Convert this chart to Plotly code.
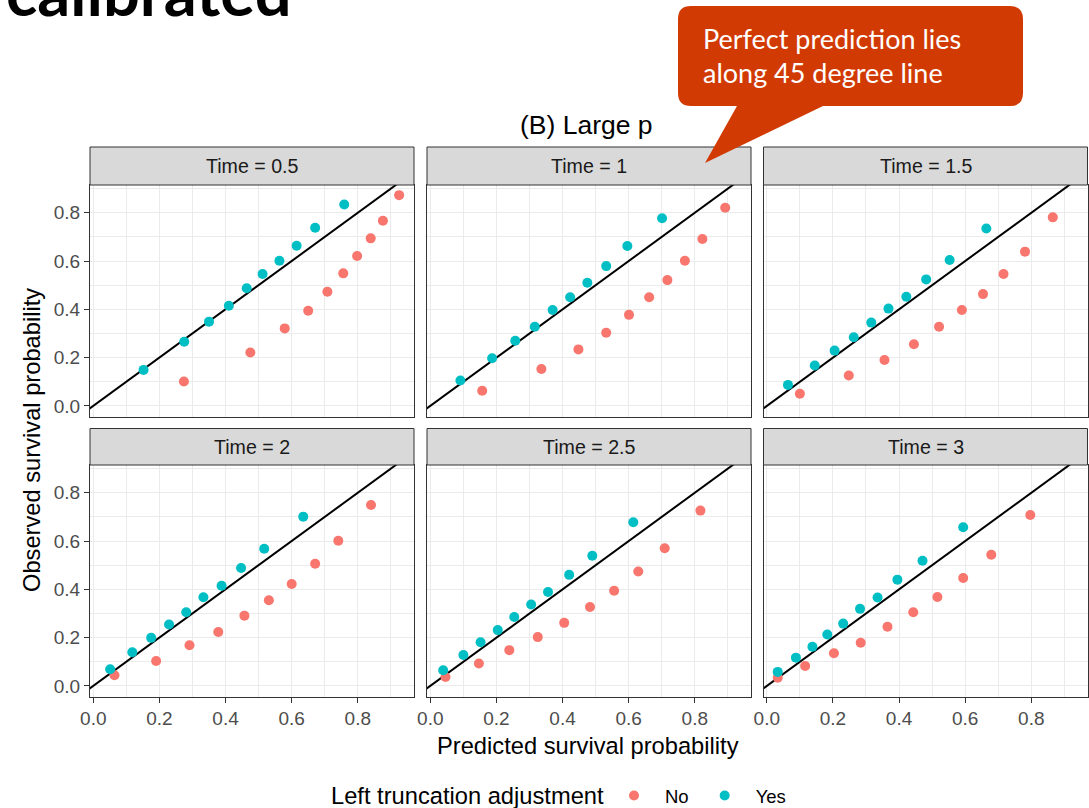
import plotly.graph_objects as go

# ---------------- data ----------------
time_labels = ["0.5", "1", "1.5", "2", "2.5", "3"]

t05_no_x = [0.274, 0.475, 0.579, 0.650, 0.708, 0.756, 0.798, 0.839, 0.876, 0.925]
t05_no_y = [0.101, 0.221, 0.321, 0.394, 0.473, 0.549, 0.621, 0.694, 0.767, 0.873]
t05_yes_x = [0.152, 0.275, 0.350, 0.410, 0.464, 0.512, 0.563, 0.615, 0.671, 0.759]
t05_yes_y = [0.149, 0.266, 0.349, 0.415, 0.487, 0.546, 0.601, 0.663, 0.738, 0.834]

t1_no_x = [0.157, 0.336, 0.448, 0.532, 0.601, 0.662, 0.717, 0.770, 0.823, 0.892]
t1_no_y = [0.063, 0.153, 0.234, 0.303, 0.377, 0.450, 0.521, 0.601, 0.691, 0.821]
t1_yes_x = [0.091, 0.187, 0.257, 0.316, 0.370, 0.423, 0.475, 0.532, 0.596, 0.701]
t1_yes_y = [0.105, 0.197, 0.270, 0.328, 0.397, 0.450, 0.510, 0.579, 0.662, 0.777]

t15_no_x = [0.100, 0.248, 0.356, 0.445, 0.521, 0.590, 0.654, 0.716, 0.781, 0.865]
t15_no_y = [0.050, 0.126, 0.190, 0.255, 0.328, 0.397, 0.463, 0.546, 0.639, 0.781]
t15_yes_x = [0.064, 0.145, 0.205, 0.263, 0.316, 0.368, 0.422, 0.482, 0.553, 0.664]
t15_yes_y = [0.087, 0.167, 0.229, 0.284, 0.345, 0.403, 0.452, 0.524, 0.604, 0.735]

t2_no_x = [0.064, 0.190, 0.291, 0.378, 0.457, 0.531, 0.600, 0.671, 0.741, 0.840]
t2_no_y = [0.044, 0.103, 0.168, 0.223, 0.291, 0.355, 0.422, 0.506, 0.601, 0.749]
t2_yes_x = [0.051, 0.118, 0.175, 0.229, 0.281, 0.333, 0.388, 0.447, 0.517, 0.635]
t2_yes_y = [0.069, 0.139, 0.199, 0.254, 0.305, 0.367, 0.415, 0.488, 0.568, 0.701]

t25_no_x = [0.046, 0.147, 0.239, 0.325, 0.405, 0.483, 0.556, 0.629, 0.709, 0.817]
t25_no_y = [0.037, 0.093, 0.148, 0.202, 0.261, 0.327, 0.394, 0.474, 0.570, 0.726]
t25_yes_x = [0.039, 0.100, 0.152, 0.204, 0.254, 0.305, 0.356, 0.420, 0.490, 0.614]
t25_yes_y = [0.065, 0.128, 0.181, 0.231, 0.285, 0.337, 0.389, 0.460, 0.539, 0.678]

t3_no_x = [0.033, 0.116, 0.203, 0.284, 0.365, 0.443, 0.516, 0.594, 0.679, 0.797]
t3_no_y = [0.034, 0.082, 0.135, 0.179, 0.245, 0.305, 0.368, 0.447, 0.543, 0.708]
t3_yes_x = [0.033, 0.088, 0.138, 0.183, 0.231, 0.282, 0.335, 0.395, 0.471, 0.594]
t3_yes_y = [0.058, 0.117, 0.162, 0.213, 0.258, 0.319, 0.366, 0.440, 0.518, 0.657]

tick_vals = [0.0, 0.2, 0.4, 0.6, 0.8]
tick_text = ["0.0", "0.2", "0.4", "0.6", "0.8"]
minor_vals = [0.1, 0.3, 0.5, 0.7, 0.9]
ref_line = [-0.2, 1.2]   # identity line y = x

panels = [
    (time_labels[0], t05_no_x, t05_no_y, t05_yes_x, t05_yes_y),
    (time_labels[1], t1_no_x, t1_no_y, t1_yes_x, t1_yes_y),
    (time_labels[2], t15_no_x, t15_no_y, t15_yes_x, t15_yes_y),
    (time_labels[3], t2_no_x, t2_no_y, t2_yes_x, t2_yes_y),
    (time_labels[4], t25_no_x, t25_no_y, t25_yes_x, t25_yes_y),
    (time_labels[5], t3_no_x, t3_no_y, t3_yes_x, t3_yes_y),
]

# ---------------- layout geometry (pixels) ----------------
W, H = 1089, 808
col_px = [(90, 414), (427, 751), (763.5, 1087.5)]
row_px = [(185, 416.5), (465, 696.5)]      # panel top, bottom
strip_px = [(147, 185), (428.5, 465)]


def fx(x):
    return x / W


def fy(y):
    return 1 - y / H


FONT = "Liberation Sans, Arial, Helvetica, sans-serif"
CAL = "Lato, Open Sans, sans-serif"
RED = "#F8766D"
TEAL = "#00BFC4"
GRID = "#EBEBEB"
BORDER = "#333333"

fig = go.Figure()
layout_axes = {}
shapes = []
annotations = []

for i, (tlab, nx, ny, yx, yy) in enumerate(panels):
    r, c = divmod(i, 3)
    n = i + 1
    xa = "x" if n == 1 else f"x{n}"
    ya = "y" if n == 1 else f"y{n}"
    xkey = "xaxis" if n == 1 else f"xaxis{n}"
    ykey = "yaxis" if n == 1 else f"yaxis{n}"

    fig.add_trace(go.Scatter(x=ref_line, y=ref_line, mode="lines",
                             line=dict(color="black", width=2),
                             xaxis=xa, yaxis=ya, showlegend=False,
                             hoverinfo="skip"))
    fig.add_trace(go.Scatter(x=nx, y=ny, mode="markers", name="No",
                             marker=dict(color=RED, size=10, line=dict(width=0)),
                             xaxis=xa, yaxis=ya, legendgroup="No",
                             showlegend=(i == 0)))
    fig.add_trace(go.Scatter(x=yx, y=yy, mode="markers", name="Yes",
                             marker=dict(color=TEAL, size=10, line=dict(width=0)),
                             xaxis=xa, yaxis=ya, legendgroup="Yes",
                             showlegend=(i == 0)))

    x0, x1 = col_px[c]
    ptop, pbot = row_px[r]
    bottom_row = (r == 1)
    left_col = (c == 0)
    common = dict(
        tickvals=tick_vals, ticktext=tick_text,
        ticklen=5, tickwidth=1, tickcolor=BORDER,
        tickfont=dict(family=FONT, size=19, color="#4D4D4D"),
        showgrid=True, gridcolor=GRID, gridwidth=1.3,
        minor=dict(tickvals=minor_vals, showgrid=True,
                   gridcolor=GRID, gridwidth=0.7, ticks=""),
        zeroline=False, showline=True, mirror=True,
        linecolor=BORDER, linewidth=1, automargin=False,
    )
    layout_axes[xkey] = dict(
        domain=[fx(x0), fx(x1)], anchor=ya, range=[-0.01, 0.97],
        showticklabels=bottom_row, ticks="outside" if bottom_row else "",
        **common,
    )
    layout_axes[ykey] = dict(
        domain=[fy(pbot), fy(ptop)], anchor=xa, range=[-0.044, 0.915],
        showticklabels=left_col, ticks="outside" if left_col else "",
        **common,
    )

    s0, s1 = strip_px[r]
    shapes.append(dict(type="rect", xref="paper", yref="paper",
                       x0=fx(x0), x1=fx(x1), y0=fy(s1), y1=fy(s0),
                       fillcolor="#D9D9D9", line=dict(color=BORDER, width=1),
                       layer="above"))
    annotations.append(dict(text=f"Time = {tlab}", xref="paper", yref="paper",
                            x=fx((x0 + x1) / 2), y=fy((s0 + s1) / 2),
                            xanchor="center", yanchor="middle", showarrow=False,
                            font=dict(family=FONT, size=19.6, color="#1A1A1A")))

# callout bubble (speech balloon)
cl, cr, ct, cb, rad = 678, 1023, 6, 106, 13
pts = [
    ("M", cl + rad, ct), ("L", cr - rad, ct), ("Q", cr, ct, cr, ct + rad),
    ("L", cr, cb - rad), ("Q", cr, cb, cr - rad, cb), ("L", 823, cb),
    ("L", 705, 163), ("L", 737, cb), ("L", cl + rad, cb),
    ("Q", cl, cb, cl, cb - rad), ("L", cl, ct + rad), ("Q", cl, ct, cl + rad, ct),
]
path = ""
for p in pts:
    cmd = p[0]
    coords = p[1:]
    segs = []
    for k in range(0, len(coords), 2):
        segs.append(f"{fx(coords[k]):.5f},{fy(coords[k + 1]):.5f}")
    path += cmd + " " + " ".join(segs) + " "
path += "Z"
shapes.append(dict(type="path", path=path, xref="paper", yref="paper",
                   fillcolor="#D23A04", line=dict(width=0), layer="above"))

annotations += [
    dict(text="Perfect prediction lies", xref="paper", yref="paper",
         x=fx(701), y=fy(38), xanchor="left", yanchor="middle", showarrow=False,
         font=dict(family=CAL, size=27, color="white")),
    dict(text="along 45 degree line", xref="paper", yref="paper",
         x=fx(701), y=fy(73), xanchor="left", yanchor="middle", showarrow=False,
         font=dict(family=CAL, size=27, color="white")),
    dict(text="<b>calibrated</b>", xref="paper", yref="paper",
         x=fx(4), y=fy(32), xanchor="left", yanchor="bottom", showarrow=False,
         font=dict(family=CAL, size=65, color="black")),
    dict(text="(B) Large p", xref="paper", yref="paper",
         x=fx(586), y=fy(125), xanchor="center", yanchor="middle", showarrow=False,
         font=dict(family=FONT, size=26.5, color="black")),
    dict(text="Predicted survival probability", xref="paper", yref="paper",
         x=fx(588), y=fy(746), xanchor="center", yanchor="middle", showarrow=False,
         font=dict(family=FONT, size=23.7, color="black")),
    dict(text="Observed survival probability", xref="paper", yref="paper",
         x=fx(32), y=fy(440), xanchor="center", yanchor="middle", showarrow=False,
         textangle=-90, font=dict(family=FONT, size=23.7, color="black")),
    dict(text="Left truncation adjustment", xref="paper", yref="paper",
         x=fx(329), y=fy(796), xanchor="left", yanchor="middle", showarrow=False,
         font=dict(family=FONT, size=23.7, color="black")),
]

fig.update_layout(
    template="plotly_white",
    width=W, height=H,
    margin=dict(l=0, r=0, t=0, b=0, pad=0, autoexpand=False),
    paper_bgcolor="white", plot_bgcolor="white",
    shapes=shapes, annotations=annotations,
    legend=dict(orientation="h", x=fx(603), xanchor="left",
                y=fy(796), yanchor="middle", itemwidth=52,
                font=dict(family=FONT, size=18.5, color="black"),
                bgcolor="rgba(0,0,0,0)"),
    **layout_axes,
)

fig.write_html("out.html",
               config={"displayModeBar": False},
               post_script="document.body.style.margin='0';"
                           "document.body.style.overflow='hidden';")
